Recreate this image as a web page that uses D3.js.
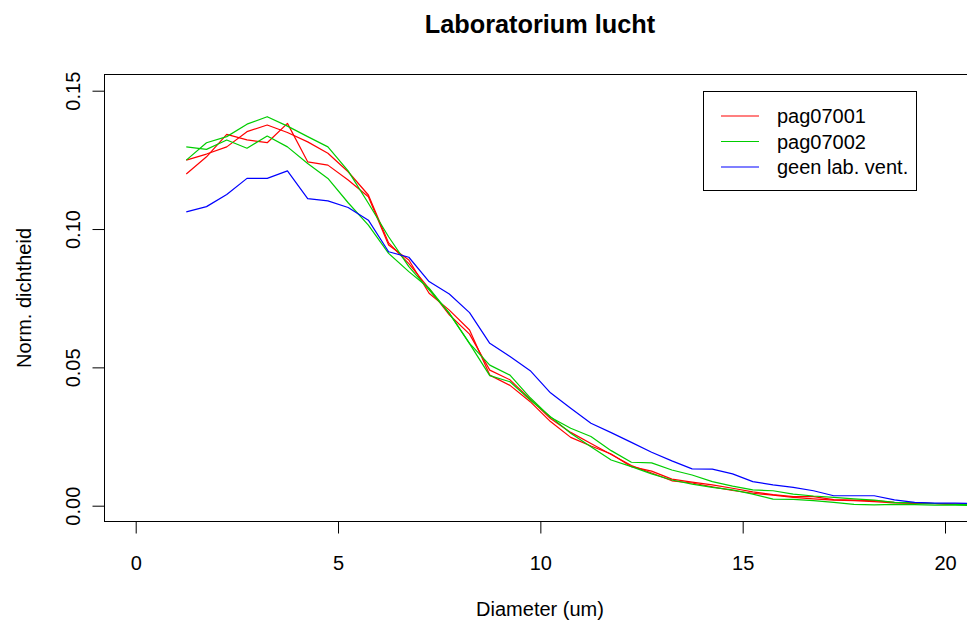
<!DOCTYPE html>
<html>
<head>
<meta charset="utf-8">
<script src="https://cdn.jsdelivr.net/npm/d3@7/dist/d3.min.js"></script>
<style>
  html, body { margin: 0; padding: 0; background: #fff; }
  svg { display: block; font-family: "Liberation Sans", Arial, sans-serif; }
</style>
</head>
<body>
<svg id="chart" width="967" height="624"></svg>
<script>
// ---- data ----
const diameters = [1.25, 1.75, 2.25, 2.75, 3.25, 3.75, 4.25, 4.75, 5.25, 5.75,
  6.25, 6.75, 7.25, 7.75, 8.25, 8.75, 9.25, 9.75, 10.25, 10.75,
  11.25, 11.75, 12.25, 12.75, 13.25, 13.75, 14.25, 14.75, 15.25, 15.75,
  16.25, 16.75, 17.25, 17.75, 18.25, 18.75, 19.25, 19.75, 20.25, 20.75];

const pag07001a = [0.1249, 0.1271, 0.1297, 0.1352, 0.1376, 0.1349, 0.1315, 0.1274, 0.1207, 0.1123,
  0.0950, 0.0875, 0.0785, 0.0690, 0.0620, 0.0490, 0.0455, 0.0385, 0.0315, 0.0265,
  0.0225, 0.0185, 0.0145, 0.0118, 0.0090, 0.0082, 0.0068, 0.0055, 0.0045, 0.0038,
  0.0030, 0.0025, 0.0020, 0.0018, 0.0015, 0.0010, 0.0008, 0.0007, 0.0005, 0.0004];

const pag07001b = [0.1199, 0.1261, 0.1342, 0.1322, 0.1312, 0.1382, 0.1243, 0.1231, 0.1177, 0.1117,
  0.0942, 0.0888, 0.0768, 0.0707, 0.0635, 0.0472, 0.0435, 0.0376, 0.0304, 0.0247,
  0.0216, 0.0187, 0.0141, 0.0125, 0.0096, 0.0085, 0.0075, 0.0063, 0.0050, 0.0040,
  0.0033, 0.0033, 0.0022, 0.0020, 0.0018, 0.0012, 0.0010, 0.0008, 0.0006, 0.0008];

const pag07002a = [0.1249, 0.1312, 0.1334, 0.1379, 0.1406, 0.1372, 0.1334, 0.1297, 0.1210, 0.1093,
  0.0972, 0.0864, 0.0780, 0.0696, 0.0587, 0.0508, 0.0472, 0.0390, 0.0320, 0.0280,
  0.0250, 0.0199, 0.0157, 0.0155, 0.0129, 0.0111, 0.0087, 0.0071, 0.0057, 0.0054,
  0.0042, 0.0035, 0.0030, 0.0025, 0.0020, 0.0012, 0.0010, 0.0008, 0.0005, 0.0003];

const pag07002b = [0.1297, 0.1288, 0.1322, 0.1292, 0.1336, 0.1297, 0.1237, 0.1183, 0.1095, 0.1014,
  0.0912, 0.0846, 0.0786, 0.0695, 0.0586, 0.0470, 0.0448, 0.0382, 0.0322, 0.0262,
  0.0213, 0.0165, 0.0141, 0.0115, 0.0093, 0.0078, 0.0066, 0.0057, 0.0042, 0.0024,
  0.0023, 0.0018, 0.0012, 0.0005, 0.0003, 0.0005, 0.0004, 0.0002, 0.0002, 0.0000];

const geenLabVent = [0.1062, 0.1081, 0.1125, 0.1183, 0.1183, 0.1210, 0.1110, 0.1102, 0.1078, 0.1032,
  0.0918, 0.0898, 0.0810, 0.0765, 0.0698, 0.0587, 0.0539, 0.0488, 0.0408, 0.0352,
  0.0298, 0.0264, 0.0229, 0.0193, 0.0162, 0.0133, 0.0132, 0.0115, 0.0087, 0.0075,
  0.0066, 0.0054, 0.0036, 0.0036, 0.0036, 0.0021, 0.0012, 0.0009, 0.0009, 0.0008];

const xTicks = [0, 5, 10, 15, 20];
const yTicks = [0.00, 0.05, 0.10, 0.15];
const yTickLabels = ["0.00", "0.05", "0.10", "0.15"];

const legendLabels = ["pag07001", "pag07002", "geen lab. vent."];
const legendColors = ["#ff0000", "#00cd00", "#0000ff"];

const seriesList = [
  { values: pag07001a, color: "#ff0000" },
  { values: pag07001b, color: "#ff0000" },
  { values: pag07002a, color: "#00cd00" },
  { values: pag07002b, color: "#00cd00" },
  { values: geenLabVent, color: "#0000ff" }
];

const titleText = "Laboratorium lucht";
const xLabel = "Diameter (um)";
const yLabel = "Norm. dichtheid";

// ---- layout ----
const svg = d3.select("#chart");
const W = 967, H = 624;
const plot = { left: 104, top: 74, bottom: 521, right: 1000 };
const fs = 20;

const x = d3.scaleLinear().domain([0, 20]).range([135.7, 945]);
const y = d3.scaleLinear().domain([0, 0.15]).range([505.7, 90.7]);

svg.append("rect").attr("width", W).attr("height", H).attr("fill", "#fff");

svg.append("defs").append("clipPath").attr("id", "clip")
  .append("rect").attr("x", plot.left).attr("y", plot.top)
  .attr("width", plot.right - plot.left).attr("height", plot.bottom - plot.top);

// lines
const line = d3.line().x((d, i) => x(diameters[i])).y(d => y(d));
const g = svg.append("g").attr("clip-path", "url(#clip)");
seriesList.forEach(s => {
  g.append("path").datum(s.values)
    .attr("d", line)
    .attr("fill", "none")
    .attr("stroke", s.color)
    .attr("stroke-width", 1.2)
    .attr("stroke-linejoin", "round");
});

// box
svg.append("rect")
  .attr("x", plot.left + 0.5).attr("y", plot.top + 0.5)
  .attr("width", plot.right - plot.left).attr("height", plot.bottom - plot.top)
  .attr("fill", "none").attr("stroke", "#000").attr("stroke-width", 1);

// x axis
const xAxis = svg.append("g")
  .attr("transform", `translate(0,${plot.bottom + 0.5})`)
  .call(d3.axisBottom(x).tickValues(xTicks).tickSize(12).tickPadding(22).tickFormat(d3.format("d")));
xAxis.select(".domain").remove();
xAxis.selectAll("line").attr("stroke", "#000");
xAxis.selectAll("text").attr("font-size", fs).attr("font-family", "Liberation Sans, Arial, sans-serif").attr("fill", "#000");

// y axis
const yAxis = svg.append("g")
  .attr("transform", `translate(${plot.left + 0.5},0)`)
  .call(d3.axisLeft(y).tickValues(yTicks).tickSize(12).tickFormat((d, i) => yTickLabels[i]));
yAxis.select(".domain").remove();
yAxis.selectAll("line").attr("stroke", "#000");
yAxis.selectAll("text")
  .attr("x", null).attr("dy", null)
  .attr("text-anchor", "middle")
  .attr("transform", "translate(-25,0) rotate(-90)")
  .attr("font-size", fs).attr("font-family", "Liberation Sans, Arial, sans-serif").attr("fill", "#000");

// titles
svg.append("text").attr("x", 540).attr("y", 33).attr("text-anchor", "middle")
  .attr("font-size", 25.3).attr("font-weight", "bold").text(titleText);
svg.append("text").attr("x", 540).attr("y", 616).attr("text-anchor", "middle")
  .attr("font-size", fs).text(xLabel);
svg.append("text").attr("transform", "translate(31,298) rotate(-90)").attr("text-anchor", "middle")
  .attr("font-size", fs).text(yLabel);

// legend
const leg = svg.append("g");
leg.append("rect").attr("x", 703.5).attr("y", 91.5).attr("width", 213).attr("height", 99)
  .attr("fill", "#fff").attr("stroke", "#000").attr("stroke-width", 1);
legendLabels.forEach((lab, i) => {
  const ly = 116 + i * 25.5;
  leg.append("line").attr("x1", 721).attr("x2", 759).attr("y1", ly).attr("y2", ly)
    .attr("stroke", legendColors[i]).attr("stroke-width", 1.2);
  leg.append("text").attr("x", 777).attr("y", ly + 7).attr("font-size", fs).text(lab);
});
</script>
</body>
</html>
